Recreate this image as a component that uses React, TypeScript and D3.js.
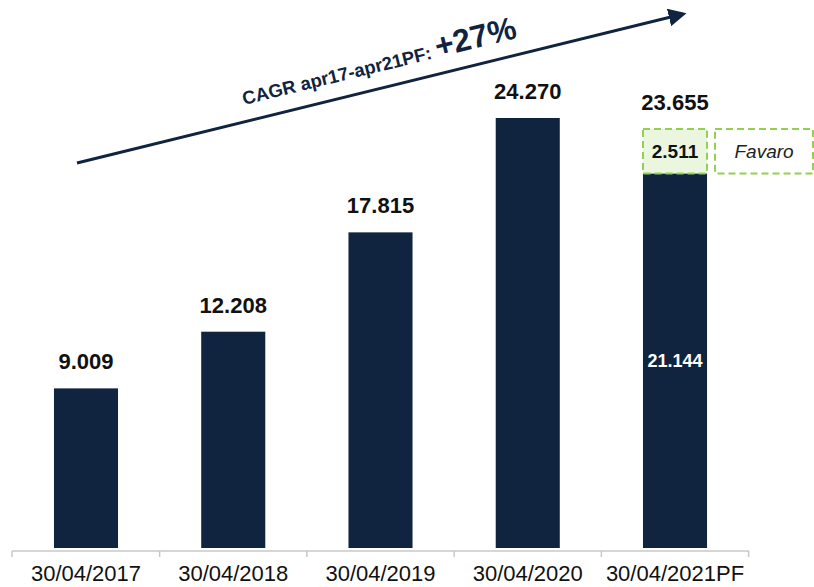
import React from 'react';
import * as d3 from 'd3';

const categories = ['30/04/2017', '30/04/2018', '30/04/2019', '30/04/2020', '30/04/2021PF'];
const baseValues = [9009, 12208, 17815, 24270, 21144];
const favaroValues = [0, 0, 0, 0, 2511];
const cagrLabel = 'CAGR apr17-apr21PF: ';
const cagrValue = '+27%';

const W = 814;
const H = 587;
const navy = '#10233f';
const green = '#92d050';

const fmt = (v: number) => d3.format(',')(v).replace(/,/g, '.');

const App = () => {
  const x = d3.scaleBand<string>().domain(categories).range([12, 749]).paddingInner(0.565).paddingOuter(0.285);
  const y = d3.scaleLinear().domain([0, 24270]).range([548, 118]);
  const bw = x.bandwidth();

  const x0 = 77, y0 = 163, x1 = 683, y1 = 14;
  const ang = (Math.atan2(y1 - y0, x1 - x0) * 180) / Math.PI;
  const tx = 244, ty = 105;

  return (
    <svg width={W} height={H} style={{ position: 'absolute', left: 0, top: 0, background: '#fff' }}>
      <defs>
        <marker id="ah" viewBox="0 0 10 10" refX="8" refY="5" markerWidth="6" markerHeight="6" orient="auto">
          <path d="M0,0 L10,5 L0,10 z" fill={navy} />
        </marker>
      </defs>

      {categories.map((c, i) => {
        const bx = x(c) as number;
        const total = baseValues[i] + favaroValues[i];
        return (
          <g key={c}>
            <rect x={bx} y={y(baseValues[i])} width={bw} height={y(0) - y(baseValues[i])} fill={navy} />
            {favaroValues[i] > 0 && (
              <>
                <rect x={bx} y={y(total)} width={bw} height={y(baseValues[i]) - y(total)}
                  fill="#ebf6df" stroke={green} strokeWidth={2} strokeDasharray="7,4" />
                <text x={bx + bw / 2} y={(y(total) + y(baseValues[i])) / 2 + 7} textAnchor="middle"
                  fontFamily="Liberation Sans" fontWeight="bold" fontSize={19} fill="#111">{fmt(favaroValues[i])}</text>
                <text x={bx + bw / 2} y={(y(0) + y(baseValues[i])) / 2 + 6} textAnchor="middle"
                  fontFamily="Liberation Sans" fontWeight="bold" fontSize={18} fill="#fff">{fmt(baseValues[i])}</text>
                <rect x={bx + bw + 8} y={y(total)} width={98} height={y(baseValues[i]) - y(total)}
                  fill="none" stroke={green} strokeWidth={2} strokeDasharray="7,4" />
                <text x={bx + bw + 57} y={(y(total) + y(baseValues[i])) / 2 + 7} textAnchor="middle"
                  fontFamily="Liberation Sans" fontStyle="italic" fontSize={19} fill="#222">Favaro</text>
              </>
            )}
            <text x={bx + bw / 2} y={y(total) - 19} textAnchor="middle"
              fontFamily="Liberation Sans" fontWeight="bold" fontSize={22} fill="#111">{fmt(total)}</text>
            <text x={bx + bw / 2} y={581} textAnchor="middle"
              fontFamily="Liberation Sans" fontSize={22} fill="#111">{c}</text>
          </g>
        );
      })}

      <g stroke="#c8c8c8" strokeWidth={1.5}>
        <line x1={12} x2={749} y1={551} y2={551} />
        {[12, ...categories.map(c => (x(c) as number) + bw / 2 + x.step() / 2)].map((t, i) => (
          <line key={i} x1={t} x2={t} y1={551} y2={557} />
        ))}
      </g>

      <line x1={x0} y1={y0} x2={x1} y2={y1} stroke={navy} strokeWidth={3} markerEnd="url(#ah)" />
      <text transform={`translate(${tx},${ty}) rotate(${ang})`} fontFamily="Liberation Sans" fontWeight="bold" fill={navy}>
        <tspan fontSize={18.5}>{cagrLabel}</tspan>
        <tspan fontSize={32}>{cagrValue}</tspan>
      </text>
    </svg>
  );
};

export default App;
